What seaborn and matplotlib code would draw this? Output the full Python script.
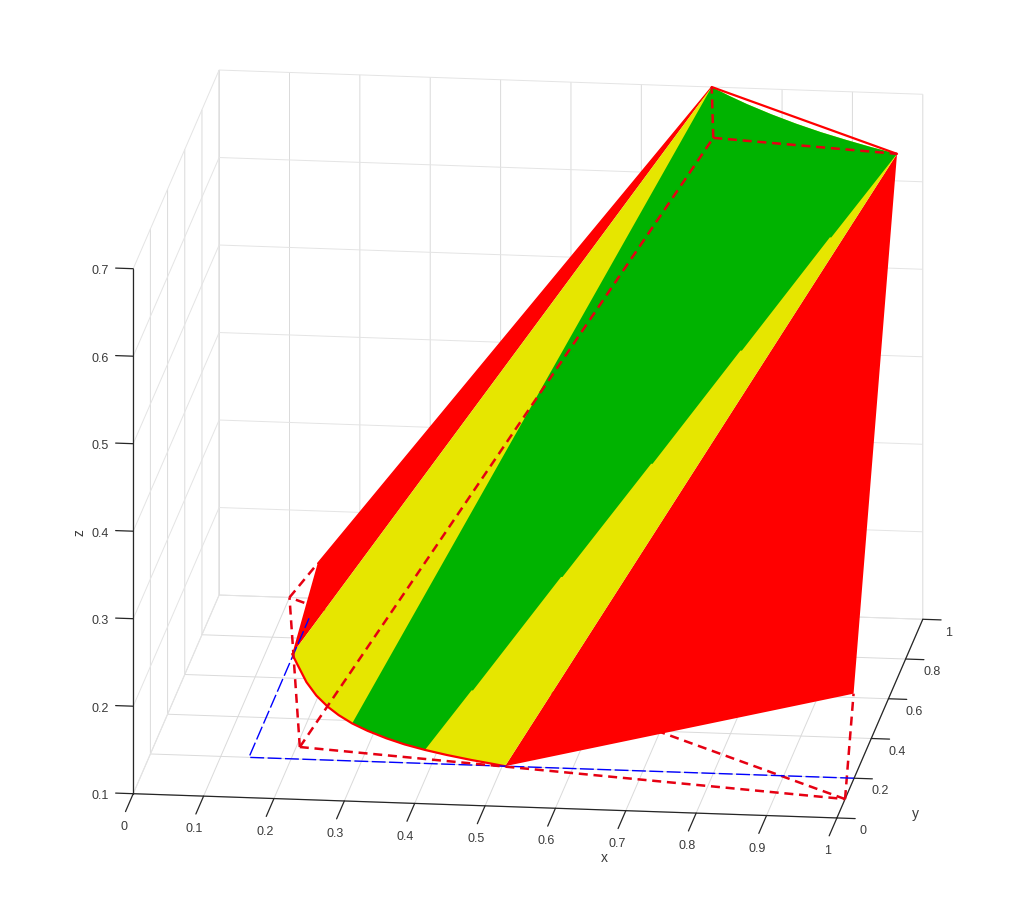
import matplotlib
matplotlib.use("Agg")
import matplotlib.pyplot as plt
import seaborn as sns
from mpl_toolkits.mplot3d import proj3d
from mpl_toolkits.mplot3d.art3d import Poly3DCollection

# --- datos ---
x_ticks = [0, 0.1, 0.2, 0.3, 0.4, 0.5, 0.6, 0.7, 0.8, 0.9, 1]
y_ticks = [0, 0.2, 0.4, 0.6, 0.8, 1]
z_ticks = [0.1, 0.2, 0.3, 0.4, 0.5, 0.6, 0.7]
x_labels = ['0', '0.1', '0.2', '0.3', '0.4', '0.5', '0.6', '0.7', '0.8', '0.9', '1']
y_labels = ['0', '0.2', '0.4', '0.6', '0.8', '1']
z_labels = ['0.1', '0.2', '0.3', '0.4', '0.5', '0.6', '0.7']

# curva inferior (z = 0.1)
arc_x = [0.138, 0.150, 0.175, 0.197, 0.220, 0.240, 0.264, 0.290, 0.321, 0.350, 0.382, 0.415, 0.453, 0.480, 0.504]
arc_y = [0.720, 0.675, 0.583, 0.518, 0.464, 0.425, 0.386, 0.352, 0.318, 0.291, 0.267, 0.246, 0.225, 0.212, 0.200]
arc_z = [0.1] * len(arc_x)

# curva superior (z = 0.7)
top_x = [0.700, 0.730, 0.760, 0.800, 0.840, 0.880, 0.920, 0.960, 1.000]
top_y = [1.000, 0.959, 0.921, 0.875, 0.833, 0.795, 0.761, 0.729, 0.700]
top_z = [0.7] * len(top_x)

# borde derecho del verde, con sus pequenos saltos
borde_x = [0.443, 0.445, 0.560, 0.562, 0.678, 0.680, 0.795, 0.797, 0.912, 0.914]
borde_y = [0.310, 0.310, 0.393, 0.393, 0.475, 0.475, 0.557, 0.557, 0.639, 0.639]
borde_z = [0.160, 0.160, 0.274, 0.274, 0.388, 0.388, 0.502, 0.502, 0.616, 0.616]

# esquinas de la superficie
esquina_izq = (0.14, 1.0, 0.14)
esquina_der = (1.0, 0.194, 0.198)

# prisma punteado
pA = (0.205, 0.26, 0.1)
pB = (1.0, 0.095, 0.1)
pC = (0.1, 1.0, 0.1)
pD = (0.733, 0.748, 0.7)
pE = (1.0, 0.7, 0.7)
pF = (0.7, 1.0, 0.7)

# dominio azul
azul_x = [1.0, 0.14, 0.14]
azul_y = [0.2, 0.2, 0.9]
azul_z = [0.1, 0.1, 0.1]

ROJO = '#ff0000'
AMARILLO = '#e6e600'
VERDE = '#00b300'
ROJO_P = '#e60012'
TEXTO = '#3a3a3a'
NEGRO = '#262626'

sns.set_theme(style='white')
plt.rcParams['font.family'] = ['Liberation Sans', 'DejaVu Sans']

W, H = 1020, 920
fig = plt.figure(figsize=(W / 100, H / 100), dpi=100)
lado = 900
cx, cy = 528, 920 - 445
ax = fig.add_axes([(cx - 0.5135 * lado) / W, (cy - 0.5135 * lado) / H, lado / W, lado / H],
                  projection='3d', computed_zorder=False)
ax.set_proj_type('ortho')
ax.view_init(elev=16.4, azim=-83.04)
ax.set_box_aspect((1, 1, 0.772), zoom=1.232)
ax.patch.set_alpha(0)

ax.set_xticks(x_ticks)
ax.set_yticks(y_ticks)
ax.set_zticks(z_ticks)

for eje, gris in [(ax.xaxis, '#dadada'), (ax.yaxis, '#dadada'), (ax.zaxis, '#e4e4e4')]:
    eje.set_pane_color((1, 1, 1, 0))
    eje.pane.set_edgecolor('#d8d8d8')
    eje.line.set_color(NEGRO)
    eje.line.set_linewidth(0.9)
    eje._axinfo['grid'].update(color=gris, linewidth=0.7)
    eje._axinfo['tick'].update(inward_factor=0, outward_factor=0)
    eje.set_major_formatter(plt.NullFormatter())
    eje.set_tick_params(label1On=False, label2On=False)
    for tick in eje.get_major_ticks():
        tick.label1.set_visible(False)
        tick.label2.set_visible(False)
    eje.offsetText.set_visible(False)
    eje.label.set_visible(False)
ax.zaxis.line.set_visible(False)


def linea(p, q, zo, color=ROJO_P, lw=1.8):
    ax.plot([p[0], q[0]], [p[1], q[1]], [p[2], q[2]], color=color, lw=lw,
            ls=(0, (3.6, 2.3)), zorder=zo)


def poligono(pts, color, zo):
    pc = Poly3DCollection([pts], facecolor=color, edgecolor='none', linewidth=0, zorder=zo)
    ax.add_collection3d(pc, autolim=False)


arco = list(zip(arc_x, arc_y, arc_z))
tope = list(zip(top_x, top_y, top_z))
borde = list(zip(borde_x, borde_y, borde_z))

# aristas que quedan detras
linea(pB, pC, 2)
linea(pC, esquina_izq, 2)
linea(pB, esquina_der, 2)

poligono([arco[0], esquina_izq, pF], ROJO, 3)
poligono([arco[-1], pE, esquina_der], ROJO, 3)
poligono(arco + tope[::-1], AMARILLO, 4)
poligono(arco[6:11] + borde + tope[::-1], VERDE, 5)

ax.plot(arc_x, arc_y, arc_z, color=ROJO, lw=1.6, zorder=6)
ax.plot([pF[0], pE[0]], [pF[1], pE[1]], [pF[2], pE[2]], color=ROJO, lw=1.6, zorder=6)
ax.plot([esquina_izq[0], pF[0]], [esquina_izq[1], pF[1]], [esquina_izq[2], pF[2]], color=ROJO, lw=1.0, zorder=3)
ax.plot(azul_x, azul_y, azul_z, color='#0000ff', lw=1.0, ls=(0, (10, 2.5)), zorder=6)

# aristas visibles
linea(pA, pB, 7)
linea(pA, pC, 7)
linea(pA, pD, 7)
linea(pD, pE, 7)
linea(pD, pF, 7)

ax.set_xlim(0, 1, view_margin=0)
ax.set_ylim(0, 1, view_margin=0)
ax.set_zlim(0.1, 0.7, view_margin=0)


def rotulo(x, y, z, texto, tam=9, giro=0):
    xp, yp, _ = proj3d.proj_transform(x, y, z, ax.get_proj())
    ax.text2D(xp, yp, texto, transform=ax.transData, fontsize=tam, color=TEXTO,
              ha='center', va='center', rotation=giro)


# eje z y marcas, como en la figura original
ax.plot([0, 0], [0, 0], [0.1, 0.7], color=NEGRO, lw=0.9, zorder=8)
for v, t in zip(x_ticks, x_labels):
    ax.plot([v, v], [0, -0.09], [0.1, 0.1], color=NEGRO, lw=0.9, zorder=8)
    rotulo(v, -0.105, 0.087, t)
for v, t in zip(y_ticks, y_labels):
    ax.plot([1, 1.026], [v, v], [0.1, 0.1], color=NEGRO, lw=0.9, zorder=8)
    rotulo(1.037, v, 0.087, t)
for v, t in zip(z_ticks, z_labels):
    ax.plot([0, -0.025], [0, 0], [v, v], color=NEGRO, lw=0.9, zorder=8)
    rotulo(-0.047, 0, v - 0.003, t)

rotulo(0.669, 0, 0.0463, 'x', tam=10)
rotulo(1.111, 0, 0.1087, 'y', tam=10)
rotulo(-0.077, 0, 0.397, 'z', tam=10, giro=90)

ax.set_xlim(0, 1, view_margin=0)
ax.set_ylim(0, 1, view_margin=0)
ax.set_zlim(0.1, 0.7, view_margin=0)

plt.savefig('out.png', dpi=100)
